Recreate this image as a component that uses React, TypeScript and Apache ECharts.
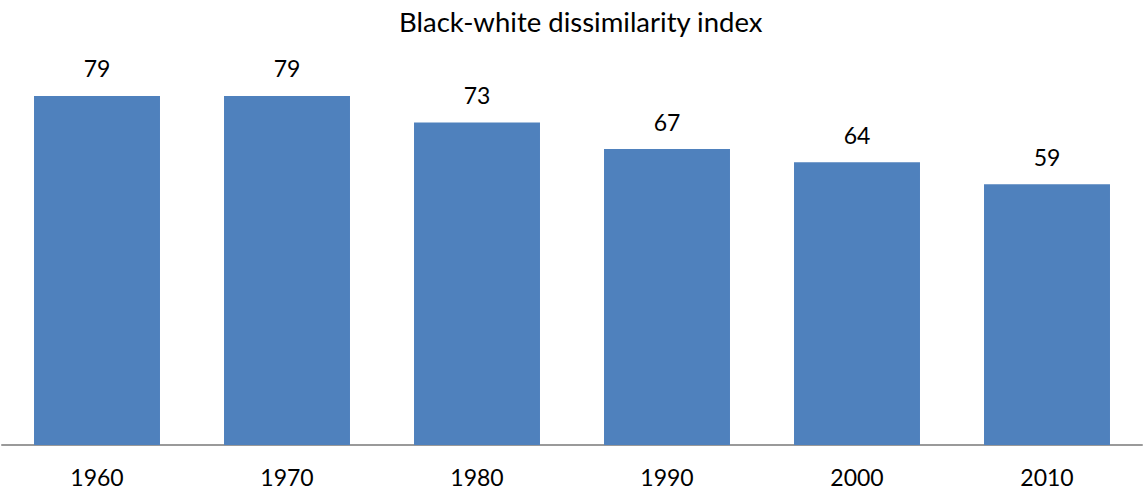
import React, { useEffect, useRef } from "react";
import * as echarts from "echarts";

const categories = ["1960", "1970", "1980", "1990", "2000", "2010"];
const values = [79, 79, 73, 67, 64, 59];
const titleText = "Black-white dissimilarity index";

export default function App() {
  const ref = useRef<HTMLDivElement>(null);
  useEffect(() => {
    if (!ref.current) return;
    const chart = echarts.init(ref.current, null, { renderer: "svg" });
    chart.setOption({
      animation: false,
      backgroundColor: "#ffffff",
      title: {
        text: titleText,
        left: 394,
        top: 2,
        textStyle: { fontFamily: "Lato", fontSize: 27.5, fontWeight: "normal", color: "#000" },
      },
      grid: { left: 2, right: 1, top: 47.4, bottom: 50 },
      xAxis: {
        type: "category",
        data: categories,
        axisLine: { lineStyle: { color: "#9a9a9a", width: 2 } },
        axisTick: { show: false },
        axisLabel: { fontFamily: "Lato", fontSize: 23, color: "#000", margin: 20 },
      },
      yAxis: {
        type: "value",
        min: 0,
        max: 90,
        show: false,
        splitLine: { show: false },
      },
      series: [
        {
          type: "bar",
          data: values,
          barWidth: "66.3%",
          itemStyle: { color: "#4F81BD" },
          label: {
            show: true,
            position: "top",
            distance: 16,
            fontFamily: "Lato",
            fontSize: 23,
            color: "#000",
          },
        },
      ],
    });
    return () => chart.dispose();
  }, []);
  return (
    <div
      ref={ref}
      style={{ position: "fixed", left: 0, top: 0, width: 1143, height: 495 }}
    />
  );
}
